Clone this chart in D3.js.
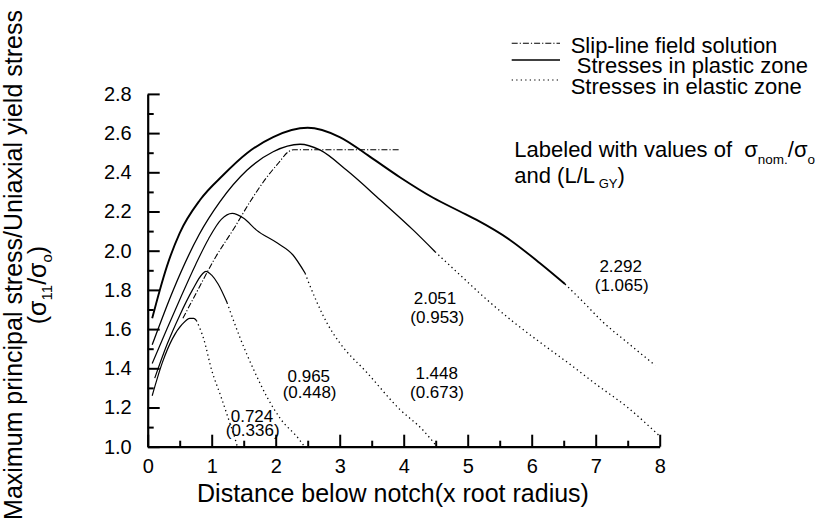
<!DOCTYPE html>
<html><head><meta charset="utf-8">
<script src="https://cdn.jsdelivr.net/npm/d3@7"></script>
<style>
body{margin:0;background:#fff}
svg{display:block;background:#fff}
text{font-family:Arial,"Liberation Sans",sans-serif;fill:#000;white-space:pre}
</style>
</head><body>
<svg id="chart" width="817" height="526"></svg>
<script>
// ---------- data ----------
const xTicks = [0,1,2,3,4,5,6,7,8];
const xMinorTicks = [0.5,1.5,2.5,3.5,4.5,5.5,6.5,7.5];
const yTicks = [1.0,1.2,1.4,1.6,1.8,2.0,2.2,2.4,2.6,2.8];
const yMinorTicks = [1.1,1.3,1.5,1.7,1.9,2.1,2.3,2.5,2.7];

// sigma_nom/sigma_o = 0.724 (L/LGY = 0.336)
const plastic0724 = [[0.07,1.26],[0.23,1.43],[0.385,1.55],[0.54,1.625],[0.66,1.655],[0.72,1.655],[0.76,1.645]];
const elastic0724 = [[0.76,1.645],[0.875,1.55],[1.0,1.39],[1.14,1.26],[1.27,1.134],[1.375,1.03],[1.4,1.0]];
// 0.965 (0.448)
const plastic0965 = [[0.11,1.35],[0.3,1.52],[0.5,1.67],[0.7,1.80],[0.85,1.88],[0.91,1.895],[1.0,1.875],[1.1,1.83],[1.24,1.735]];
const elastic0965 = [[1.24,1.735],[1.3,1.68],[1.45,1.55],[1.66,1.39],[1.87,1.25],[2.08,1.14],[2.36,1.04],[2.45,1.0]];
// 1.448 (0.673)
const plastic1448 = [[0.07,1.425],[0.3,1.6],[0.5,1.75],[0.75,1.93],[0.95,2.06],[1.15,2.16],[1.32,2.19],[1.5,2.165],[1.7,2.105],[2.02,2.04],[2.27,1.978],[2.46,1.885]];
const elastic1448 = [[2.46,1.885],[2.51,1.842],[2.64,1.74],[2.82,1.62],[3.0,1.53],[3.42,1.38],[3.94,1.19],[4.3,1.085],[4.52,1.0]];
// 2.051 (0.953)
const plastic2051 = [[0.07,1.52],[0.4,1.80],[0.8,2.08],[1.13,2.25],[1.55,2.41],[1.96,2.505],[2.38,2.543],[2.69,2.514],[3.11,2.41],[3.63,2.26],[4.15,2.105],[4.49,1.995]];
const elastic2051 = [[4.49,1.995],[4.9,1.87],[5.3,1.75],[5.7,1.64],[6.1,1.54],[6.6,1.42],[7.0,1.32],[7.5,1.2],[7.98,1.06]];
// 2.292 (1.065)
const plastic2292 = [[0.07,1.655],[0.19,1.80],[0.3,1.92],[0.5,2.09],[0.82,2.26],[1.18,2.386],[1.55,2.497],[1.96,2.58],[2.5,2.627],[3.0,2.58],[3.47,2.48],[3.94,2.375],[4.46,2.27],[4.88,2.2],[5.14,2.157],[5.66,2.055],[6.13,1.936],[6.52,1.83]];
const elastic2292 = [[6.52,1.83],[6.8,1.74],[7.1,1.64],[7.5,1.53],[7.93,1.415]];
// slip-line field solution
const slipLine = [[0.55,1.655],[0.8,1.81],[1.03,1.95],[1.36,2.12],[1.6,2.25],[1.85,2.37],[2.05,2.45],[2.2,2.505],[2.28,2.515],[3.95,2.515]];

// curve labels: text and anchor (data units)
const labelTexts = ["0.724","(0.336)","0.965","(0.448)","1.448","(0.673)","2.051","(0.953)","2.292","(1.065)"];
const labelX =     [1.63, 1.64, 2.517, 2.53, 4.516, 4.52, 4.489, 4.525, 7.39, 7.406];
const labelY =     [1.124,1.055,1.332,1.246,1.344,1.247,1.728,1.633,1.893,1.793];

const legendTexts = ["Slip-line field solution"," Stresses in plastic zone","Stresses in elastic zone"];
const xTitle = "Distance below notch(x root radius)";
const yTitle = "Maximum principal stress/Uniaxial yield stress";

// ---------- drawing ----------
const svg = d3.select("#chart");
const x = d3.scaleLinear().domain([0,8]).range([147.7,659.7]);
const y = d3.scaleLinear().domain([1,2.8]).range([446.7,93.9]);
const line = d3.line().x(d=>x(d[0])).y(d=>y(d[1])).curve(d3.curveMonotoneX);

const plasticSets = [plastic0724, plastic0965, plastic1448, plastic2051, plastic2292];
const elasticSets = [elastic0724, elastic0965, elastic1448, elastic2051, elastic2292];
const plasticWidths = [1.2,1.2,1.2,1.3,1.9];

plasticSets.forEach((d,i)=>{
  svg.append("path").attr("d",line(d)).attr("fill","none").attr("stroke","#000")
    .attr("stroke-width",plasticWidths[i]);
});
elasticSets.forEach(d=>{
  svg.append("path").attr("d",line(d)).attr("fill","none").attr("stroke","#000")
    .attr("stroke-width",1.3).attr("stroke-dasharray","1.3,3.2");
});
svg.append("path").attr("d",line(slipLine)).attr("fill","none").attr("stroke","#000")
  .attr("stroke-width",1.1).attr("stroke-dasharray","6,2,1.2,2");

// axes
function styleAxis(g){
  g.select(".domain").attr("stroke","#000").attr("stroke-width",2.2);
  g.selectAll(".tick line").attr("stroke","#000").attr("stroke-width",2);
  g.selectAll("text").attr("font-size",20).attr("font-family",'Arial,"Liberation Sans",sans-serif').attr("fill","#000");
}
const xAxisG = svg.append("g").attr("transform",`translate(0,${y(1)})`)
  .call(d3.axisBottom(x).tickValues(xTicks).tickSizeInner(-12).tickSizeOuter(0).tickPadding(12).tickFormat(d3.format("d")));
styleAxis(xAxisG);
const xMinorG = svg.append("g").attr("transform",`translate(0,${y(1)})`)
  .call(d3.axisBottom(x).tickValues(xMinorTicks).tickSizeInner(-6).tickSizeOuter(0).tickFormat(""));
styleAxis(xMinorG); xMinorG.select(".domain").remove();

const yAxisG = svg.append("g").attr("transform",`translate(${x(0)},0)`)
  .call(d3.axisLeft(y).tickValues(yTicks).tickSizeInner(-12).tickSizeOuter(0).tickPadding(16).tickFormat(d3.format(".1f")));
styleAxis(yAxisG);
const yMinorG = svg.append("g").attr("transform",`translate(${x(0)},0)`)
  .call(d3.axisLeft(y).tickValues(yMinorTicks).tickSizeInner(-6).tickSizeOuter(0).tickFormat(""));
styleAxis(yMinorG); yMinorG.select(".domain").remove();

// curve labels
svg.append("g").selectAll("text").data(labelTexts).join("text")
  .attr("x",(d,i)=>x(labelX[i])).attr("y",(d,i)=>y(labelY[i]))
  .attr("text-anchor","middle").attr("font-size",17).text(d=>d);

// axis titles
svg.append("text").attr("x",393).attr("y",502).attr("text-anchor","middle").attr("font-size",25).text(xTitle);
svg.append("text").attr("transform","translate(22,265) rotate(-90)").attr("text-anchor","middle").attr("font-size",25).text(yTitle);
const yt2 = svg.append("text").attr("transform","translate(46,285) rotate(-90)").attr("text-anchor","middle").attr("font-size",25);
yt2.append("tspan").text("(σ");
yt2.append("tspan").attr("font-size",15).attr("dy",6).text("11");
yt2.append("tspan").attr("dy",-6).text("/σ");
yt2.append("tspan").attr("font-size",15).attr("dy",6).text("o");
yt2.append("tspan").attr("dy",-6).text(")");

// legend
const legY = [43.3,60,80];
const legBase = [52.5,73,93.5];
const legDash = ["6,2,1.2,2",null,"1.3,3.2"];
legendTexts.forEach((t,i)=>{
  const l = svg.append("line").attr("x1",511.7).attr("x2",560).attr("y1",legY[i]).attr("y2",legY[i])
    .attr("stroke","#000").attr("stroke-width",i===1?1.3:1.1);
  if(legDash[i]) l.attr("stroke-dasharray",legDash[i]);
  svg.append("text").attr("x",570.7).attr("y",legBase[i]).attr("font-size",22).text(t);
});

// annotation
const a1 = svg.append("text").attr("x",514.3).attr("y",157.3).attr("font-size",22);
a1.append("tspan").text("Labeled with values of  σ");
a1.append("tspan").attr("font-size",13.5).attr("dy",7).text("nom.");
a1.append("tspan").attr("dy",-7).text("/σ");
a1.append("tspan").attr("font-size",13.5).attr("dy",7).text("o");
const a2 = svg.append("text").attr("x",514.3).attr("y",182.7).attr("font-size",22);
a2.append("tspan").text("and (L/L");
a2.append("tspan").attr("font-size",13).attr("dy",5.6).text(" GY");
a2.append("tspan").attr("dy",-5.6).text(")");
</script>
</body></html>
